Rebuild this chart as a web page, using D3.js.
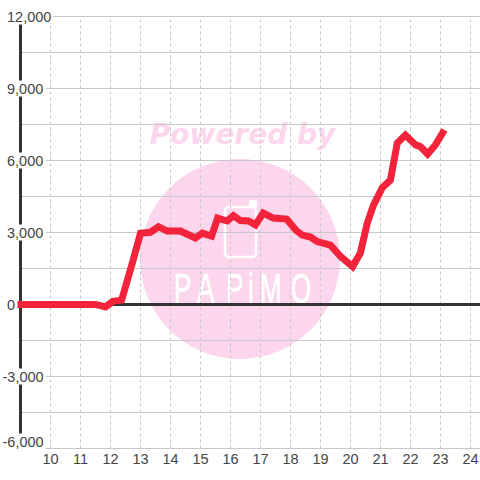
<!DOCTYPE html>
<html>
<head>
<meta charset="utf-8">
<script src="https://d3js.org/d3.v7.min.js"></script>
<style>
    html, body { margin: 0; padding: 0; background: #fff; }
    svg { display: block; }
    text { font-family: "Liberation Sans", Arial, sans-serif; }
</style>
</head>
<body>
<svg width="480" height="480"></svg>
<script>
// values
const xValues = [8.9, 11.5, 11.67, 11.83, 12.08, 12.37, 12.7, 13, 13.33, 13.6, 13.89, 14.33, 14.83, 15.06, 15.37, 15.57, 15.89, 16.1, 16.33, 16.6, 16.83, 17.09, 17.43, 17.87, 18.17, 18.39, 18.67, 18.89, 19.33, 19.67, 20.07, 20.33, 20.56, 20.77, 21.06, 21.33, 21.56, 21.83, 22.17, 22.33, 22.57, 22.83, 23.13];
const yValues = [0, 0, -50, -100, 130, 180, 1600, 2970, 3010, 3240, 3060, 3060, 2770, 2970, 2850, 3600, 3480, 3700, 3500, 3480, 3320, 3810, 3600, 3560, 3110, 2890, 2810, 2620, 2470, 2000, 1580, 2150, 3400, 4150, 4870, 5180, 6730, 7060, 6650, 6580, 6270, 6650, 7270];
const xTicks = [10, 11, 12, 13, 14, 15, 16, 17, 18, 19, 20, 21, 22, 23, 24];
const yGrid = [-6000, -4500, -3000, -1500, 0, 1500, 3000, 4500, 6000, 7500, 9000, 10500, 12000];
const yLabels = [-6000, -3000, 0, 3000, 6000, 9000, 12000];

const svg = d3.select("svg");

const xs = d3.scaleLinear().domain([9, 24]).range([20.5, 470.5]);
const ys = d3.scaleLinear().domain([-6000, 12000]).range([448.5, 16.5]);

// watermark
const mark = svg.append("g");
mark.append("circle").attr("cx", 240).attr("cy", 259).attr("r", 100).attr("fill", "#fcd6ec");
mark.append("text")
    .attr("x", 242.5).attr("y", 144)
    .attr("text-anchor", "middle")
    .attr("font-size", 28).attr("font-weight", "bold").attr("font-style", "italic")
    .style("font-family", "'DejaVu Sans'")
    .attr("fill", "#fcd6ec")
    .text("Powered by");
mark.append("rect")
    .attr("x", 225).attr("y", 207).attr("width", 31).attr("height", 50).attr("rx", 4)
    .attr("fill", "none").attr("stroke", "#fff").attr("stroke-width", 2.5);
mark.append("path")
    .attr("d", "M250 207V201H256V207")
    .attr("fill", "#fff").attr("stroke", "#fff").attr("stroke-width", 2);
mark.append("text")
    .attr("transform", "scale(0.62,1)")
    .attr("x", [174, 197, 226, 248, 260, 291].map(function(d) { return d / 0.62; }).join(" "))
    .attr("y", 303)
    .attr("font-size", 42)
    .attr("fill", "#fff")
    .attr("stroke", "#fff")
    .attr("stroke-width", 0.7)
    .text("PAPiMO");

// grid
const xGridAxis = svg.append("g")
    .attr("transform", "translate(0,448.5)")
    .call(d3.axisBottom(xs).tickValues(xTicks).tickSize(-432).tickPadding(5).offset(0).tickFormat(d3.format("d")));
xGridAxis.select(".domain").remove();
xGridAxis.selectAll("line").attr("stroke", "#c8c8c8").attr("stroke-dasharray", "3,3");
xGridAxis.selectAll("text").attr("fill", "#444").attr("font-size", 14.5);

const yGridAxis = svg.append("g")
    .attr("transform", "translate(20.5,0)")
    .call(d3.axisRight(ys).tickValues(yGrid).tickSize(460).offset(0).tickFormat(""));
yGridAxis.select(".domain").remove();
yGridAxis.selectAll("line").attr("stroke", "#c8c8c8").attr("stroke-width", 1);

// y axis line and zero line
svg.append("line")
    .attr("x1", xs(9)).attr("x2", xs(9))
    .attr("y1", ys(12000)).attr("y2", ys(-6000))
    .attr("stroke", "#333").attr("stroke-width", 3);
svg.append("line")
    .attr("x1", xs(9)).attr("x2", 480)
    .attr("y1", ys(0)).attr("y2", ys(0))
    .attr("stroke", "#333").attr("stroke-width", 3);

// y labels sit on white boxes that cut the axis
const labels = svg.append("g")
    .selectAll("g")
    .data(yLabels)
    .enter()
    .append("g")
    .attr("transform", function(d) { return "translate(0," + (d == -6000 ? ys(d) - 7 : ys(d)) + ")"; });
labels.append("rect")
    .attr("x", 0)
    .attr("y", -8)
    .attr("width", function(d) { return d == 12000 ? 53 : d == 0 ? 18 : 46; })
    .attr("height", 16)
    .attr("fill", "#fff");
labels.append("text")
    .attr("x", function(d) { return d < 0 ? 2.5 : 7; })
    .attr("dy", "0.36em")
    .attr("font-size", 14.5)
    .attr("fill", "#444")
    .text(function(d) { return d3.format(",")(d).replace("\u2212", "-"); });

// series
const line = d3.line()
    .x(function(d) { return xs(d); })
    .y(function(d, i) { return ys(yValues[i]); });

svg.append("path")
    .attr("d", line(xValues))
    .attr("fill", "none")
    .attr("stroke", "#f2233b")
    .attr("stroke-width", 7)
    .attr("stroke-linejoin", "miter");
</script>
</body>
</html>
